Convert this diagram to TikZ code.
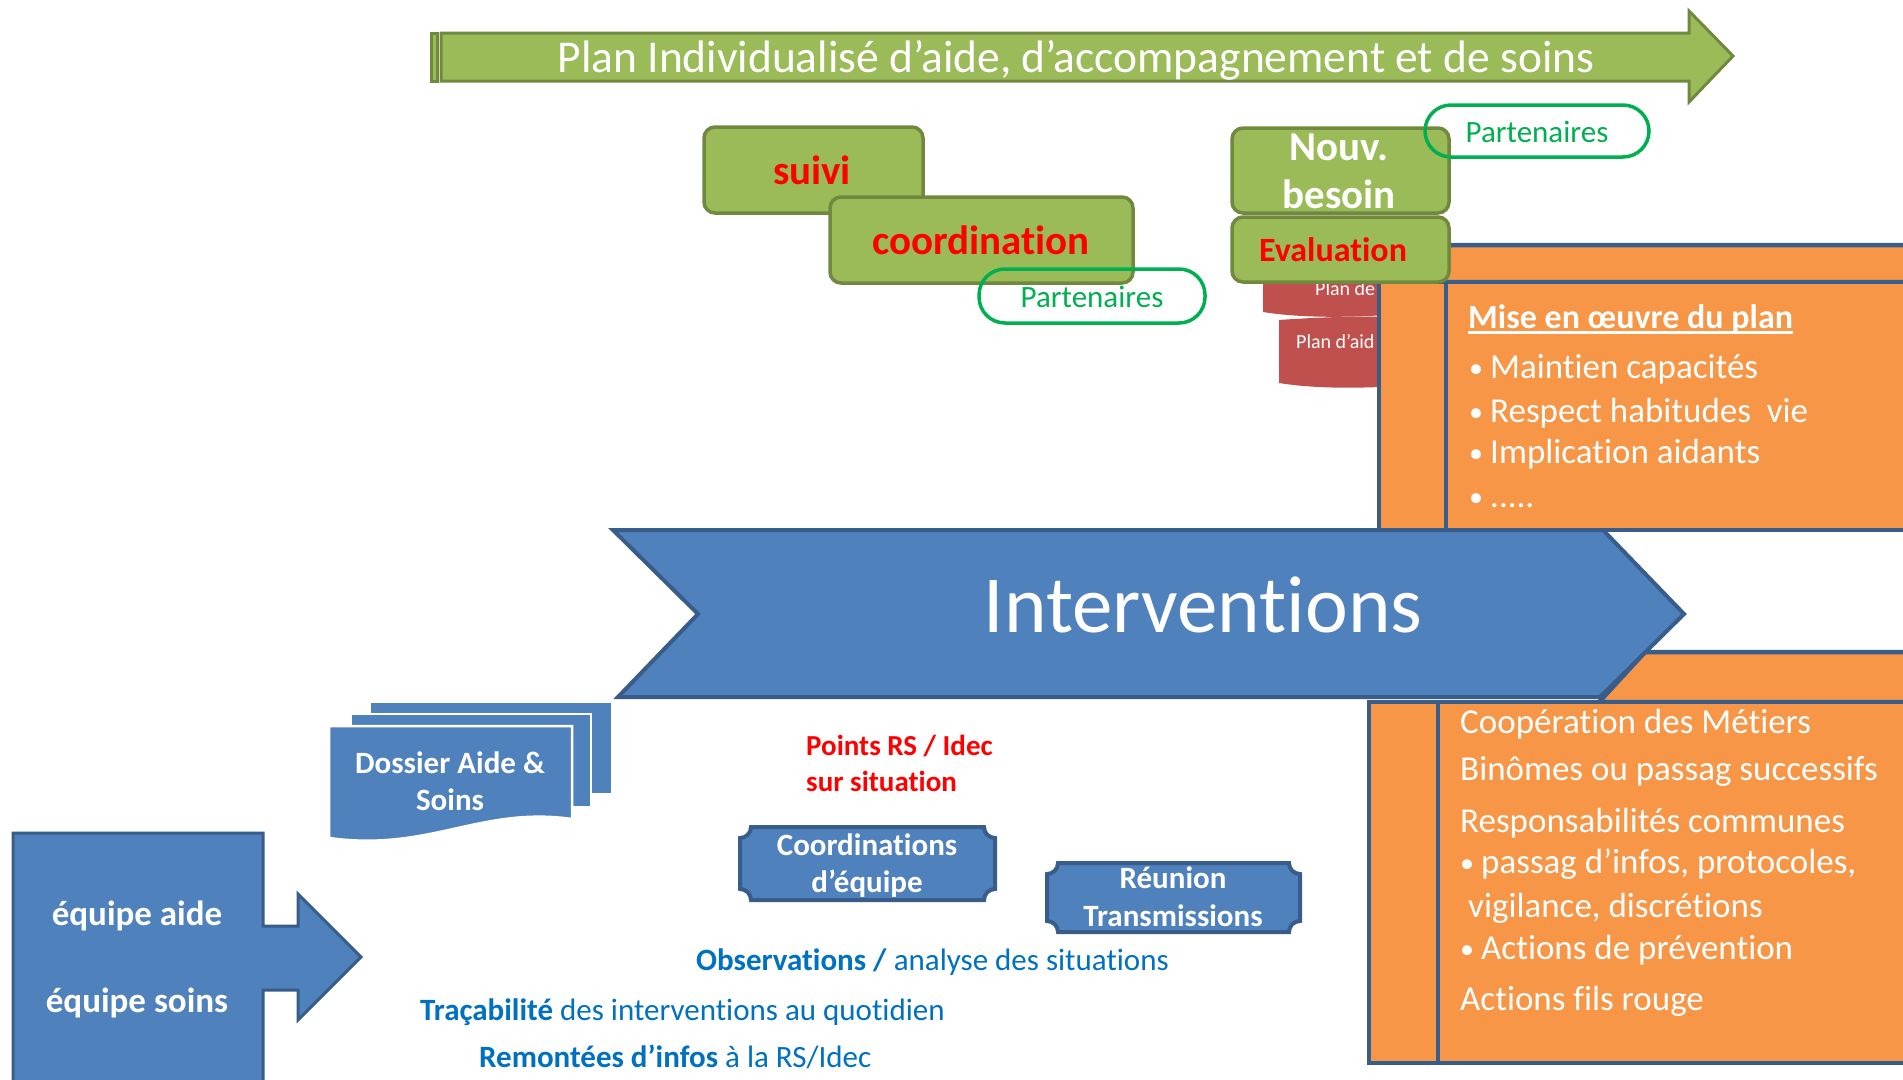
\documentclass[tikz,border=0pt]{standalone}
\usepackage{fontspec}
\setmainfont{Carlito}[Ligatures={NoCommon}]
\definecolor{greenfill}{HTML}{9BBB59}
\definecolor{greenline}{HTML}{71893F}
\definecolor{bluefill}{HTML}{4F81BD}
\definecolor{blueline}{HTML}{385D8A}
\definecolor{orangefill}{HTML}{F79646}
\definecolor{redshape}{HTML}{C0504D}
\definecolor{textblue}{HTML}{0070C0}
\definecolor{partgreen}{HTML}{00B050}
\definecolor{pure red}{HTML}{FF0000}
\newcommand{\fsz}[1]{\fontsize{#1}{#1}\selectfont}
\newcommand{\plaqueshape}[5]{%
\filldraw[plaque] ({#1+#5},#2) -- ({#3-#5},#2) .. controls ({#3-#5},{#2+0.55*#5}) and ({#3-0.55*#5},{#2+#5}) .. (#3,{#2+#5}) -- (#3,{#4-#5}) .. controls ({#3-0.55*#5},{#4-#5}) and ({#3-#5},{#4-0.55*#5}) .. ({#3-#5},#4) -- ({#1+#5},#4) .. controls ({#1+#5},{#4-0.55*#5}) and ({#1+0.55*#5},{#4-#5}) .. (#1,{#4-#5}) -- (#1,{#2+#5}) .. controls ({#1+0.55*#5},{#2+#5}) and ({#1+#5},{#2+0.55*#5}) .. ({#1+#5},#2) -- cycle;}
\begin{document}
\begin{tikzpicture}[x=1pt,y=-1pt,
  gbox/.style={draw=greenline, fill=greenfill, line width=3.5pt, rounded corners=11pt, inner sep=0pt},
  part/.style={draw=partgreen, line width=3.5pt, rounded corners=26pt, inner sep=0pt},
  obox/.style={fill=orangefill, draw=blueline, line width=4.5pt},
  barrow/.style={fill=bluefill, draw=blueline, line width=4pt, line join=miter},
  garrow/.style={fill=greenfill, draw=greenline, line width=3pt},
  plaque/.style={fill=bluefill, draw=blueline, line width=4pt},
  doc/.style={fill=bluefill, draw=white, line width=2.5pt},
  txt/.style={inner sep=0pt, anchor=base},
  txtw/.style={inner sep=0pt, anchor=base west}
]
\useasboundingbox (0,0) rectangle (1903,1079);
\clip (0,0) rectangle (1903,1079);
\fill[white] (0,0) rectangle (1903,1079);

% top arrow
\filldraw[garrow] (431,33) rectangle (437,81);
\filldraw[garrow] (441,33) -- (1689,33) -- (1689,11) -- (1733,56) -- (1689,102) -- (1689,81) -- (441,81) -- cycle;
\node[txt, text=white] (plantitle) at (1076,72) {\fsz{45.5}Plan Individualisé d’aide, d’accompagnement et de soins};

% suivi / coordination
\node[gbox, minimum width=219pt, minimum height=86pt] (suivibox) at (813.5,170) {};
\node[txt, text=pure red] (suivi) at (812,184) {\fsz{41}\bfseries suivi};
\node[gbox, minimum width=303pt, minimum height=86pt] (coordbox) at (981.5,240) {};
\node[txt, text=pure red] (coord) at (981,254) {\fsz{41}\bfseries coordination};
\node[part, minimum width=226pt, minimum height=54pt] (part1) at (1092,296) {};
\node[txt, text=partgreen] (part1t) at (1092,307) {\fsz{31}Partenaires};

% red plan shapes
\fill[redshape] (1263,270) -- (1400,270) -- (1400,314) .. controls (1350,318) and (1300,318) .. (1263,312) -- cycle;
\fill[redshape] (1279,320) .. controls (1320,317) and (1360,316) .. (1400,317) -- (1400,386) .. controls (1350,389) and (1310,388) .. (1279,383) -- cycle;
\node[txtw, text=white] (plande) at (1315,295) {\fsz{20}Plan de};
\node[txtw, text=white] (planaid) at (1296,348) {\fsz{20}Plan d’aid};

% upper orange box
\filldraw[obox] (1379,282) -- (1416,245) -- (1915,245) -- (1915,282) -- cycle;
\filldraw[obox] (1379,282) rectangle (1446,530);
\filldraw[obox] (1446,282) rectangle (1915,530);
\node[txtw, text=white] (mise) at (1468,328) {\fsz{34}\bfseries Mise en œuvre du plan};
\draw[white, line width=2.5pt] ([yshift=-4.5pt]mise.base west) -- ([yshift=-4.5pt]mise.base east);
\node[txtw, text=white] (m1) at (1469,378) {\fsz{35}\makebox[21pt][l]{\raisebox{1pt}{\fsz{28}•}}Maintien capacités};
\node[txtw, text=white] (m2) at (1469,422) {\fsz{35}\makebox[21pt][l]{\raisebox{1pt}{\fsz{28}•}}Respect habitudes \ vie};
\node[txtw, text=white] (m3) at (1469,463) {\fsz{35}\makebox[21pt][l]{\raisebox{1pt}{\fsz{28}•}}Implication aidants};
\node[txtw, text=white] (m4) at (1469,507) {\fsz{35}\makebox[21pt][l]{\raisebox{1pt}{\fsz{28}•}}.....};

% nouv besoin / evaluation
\node[gbox, minimum width=217pt, minimum height=85pt] (nouvbox) at (1340.5,170.5) {};
\node[txt, text=white] (nouv1) at (1339,160) {\fsz{41}\bfseries Nouv.};
\node[txt, text=white] (nouv2) at (1339,208) {\fsz{41}\bfseries besoin};
\node[gbox, minimum width=217pt, minimum height=65pt] (evalbox) at (1340.5,249.5) {};
\node[txt, text=pure red] (evalt) at (1333,261) {\fsz{34}\bfseries Evaluation};
\node[part, minimum width=224pt, minimum height=52pt] (part2) at (1537,131) {};
\node[txt, text=partgreen] (part2t) at (1537,142) {\fsz{31}Partenaires};

% lower orange box
\filldraw[obox] (1599,702) -- (1645,652) -- (1915,652) -- (1915,702) -- cycle;
\filldraw[obox] (1369,702) rectangle (1438,1063);
\filldraw[obox] (1438,702) rectangle (1915,1063);
\node[txtw, text=white] (c1) at (1460,733) {\fsz{35}Coopération des Métiers};
\node[txtw, text=white] (c2) at (1460,780) {\fsz{35}Binômes ou passag successifs};
\node[txtw, text=white] (c3) at (1460,832) {\fsz{35}Responsabilités communes};
\node[txtw, text=white] (c4) at (1460,873) {\fsz{35}\makebox[21pt][l]{\raisebox{1pt}{\fsz{28}•}}passag d’infos, protocoles,};
\node[txtw, text=white] (c5) at (1468,917) {\fsz{35}vigilance, discrétions};
\node[txtw, text=white] (c6) at (1460,959) {\fsz{35}\makebox[21pt][l]{\raisebox{1pt}{\fsz{28}•}}Actions de prévention};
\node[txtw, text=white] (c7) at (1460,1010) {\fsz{35}Actions fils rouge};

% interventions arrow
\filldraw[barrow] (613,530) -- (1603,530) -- (1684,614) -- (1600,697) -- (618,697) -- (698,614) -- cycle;
\node[txt, text=white] (interv) at (1203,632) {\fsz{81}Interventions};

% dossier multidocument
\filldraw[doc] (370,702) -- (612,702) -- (612,794) -- (370,794) -- cycle;
\filldraw[doc] (351,714) -- (591,714) -- (591,807) -- (351,807) -- cycle;
\filldraw[doc] (329,726) -- (572,726) -- (572,819) .. controls (480,806) and (430,852) .. (329,838) -- cycle;
\node[txt, text=white] (dos1) at (450,773) {\fsz{31}\bfseries Dossier Aide \&};
\node[txt, text=white] (dos2) at (450,810) {\fsz{31}\bfseries Soins};

% equipe arrow
\filldraw[barrow, line width=3pt] (13,833) -- (263,833) -- (263,926) -- (298,926) -- (298,894) -- (361,957) -- (298,1020) -- (298,990) -- (263,990) -- (263,1090) -- (13,1090) -- cycle;
\node[txt, text=white] (eq1) at (137,925) {\fsz{35}\bfseries équipe aide};
\node[txt, text=white] (eq2) at (137,1012) {\fsz{35}\bfseries équipe soins};

% points RS
\node[txtw, text=pure red] (pts1) at (806,755) {\fsz{29}\bfseries Points RS / Idec};
\node[txtw, text=pure red] (pts2) at (806,791) {\fsz{29}\bfseries sur situation};

% plaques
\plaqueshape{740}{827}{995}{900}{11}
\node[txt, text=white] (coq1) at (867,855) {\fsz{31}\bfseries Coordinations};
\node[txt, text=white] (coq2) at (867,892) {\fsz{31}\bfseries d’équipe};
\plaqueshape{1047}{863}{1300}{932}{11}
\node[txt, text=white] (reu1) at (1173,888) {\fsz{31}\bfseries Réunion};
\node[txt, text=white] (reu2) at (1173,926) {\fsz{31}\bfseries Transmissions};

% bottom texts
\node[txtw, text=textblue] (obs) at (696,970) {\fsz{31}\textbf{Observations /} analyse des situations};
\node[txtw, text=textblue] (trac) at (420,1020) {\fsz{31}\textbf{Traçabilité} des interventions au quotidien};
\node[txtw, text=textblue] (rem) at (479,1067) {\fsz{31}\textbf{Remontées d’infos} à la RS/Idec};
\end{tikzpicture}
\end{document}
